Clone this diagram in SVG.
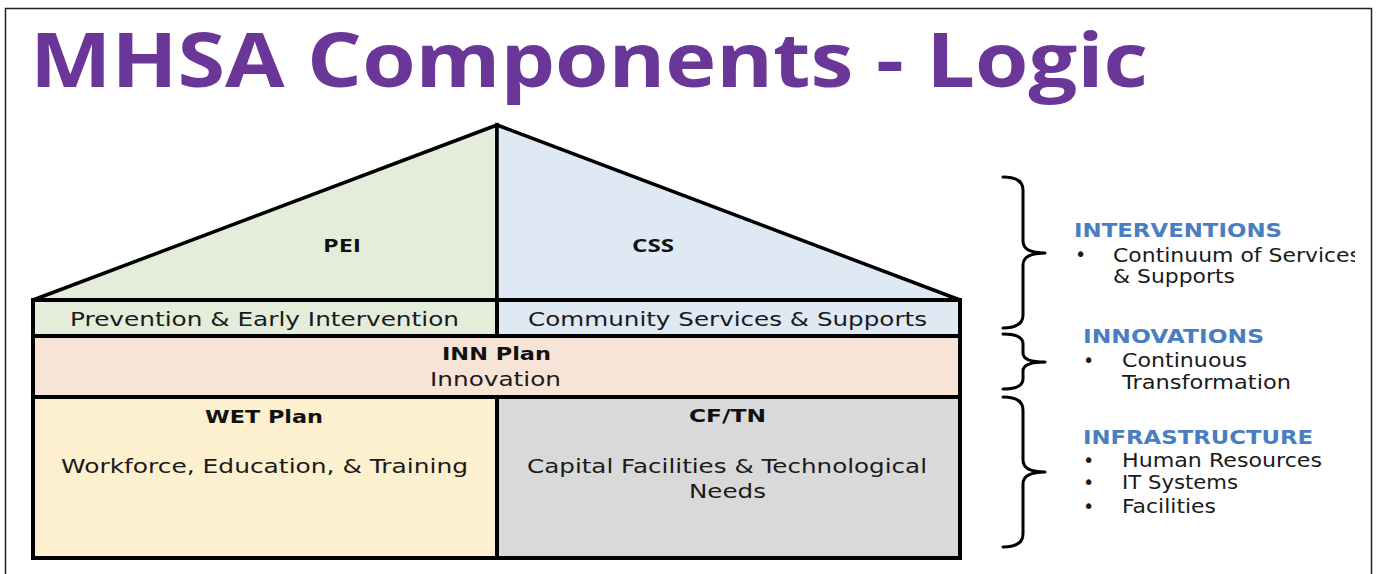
<svg xmlns="http://www.w3.org/2000/svg" width="1378" height="574" viewBox="0 0 1378 574">
<style>
.box{stroke:#000;stroke-width:4;stroke-linejoin:miter}
.roof{stroke:#000;stroke-width:3.5;stroke-linejoin:miter}
.body{font-family:"DejaVu Sans","Liberation Sans",sans-serif;font-size:19px;fill:#1a1a1a}
.bold{font-family:"DejaVu Sans","Liberation Sans",sans-serif;font-size:18px;font-weight:bold;fill:#111}
.narrow{font-family:"Open Sans","Liberation Sans",sans-serif;font-size:18px;font-weight:bold;fill:#111}
.head{font-family:"DejaVu Sans","Liberation Sans",sans-serif;font-size:19px;font-weight:bold;fill:#4A7EC0}
.brace{fill:none;stroke:#000;stroke-width:3;stroke-linecap:round;stroke-linejoin:round}
</style>
<defs>
<clipPath id="clipR"><rect x="0" y="0" width="1355" height="574"/></clipPath>
</defs>
<rect x="0" y="0" width="1378" height="574" fill="#fff"/>
<rect x="5.5" y="8.5" width="1366" height="600" fill="none" stroke="#222" stroke-width="1.5"/>
<g id="title">
<text x="30" y="87" font-family="Open Sans, Liberation Sans, sans-serif" font-weight="bold" font-size="76" fill="#6A3799" textLength="1118" lengthAdjust="spacingAndGlyphs">MHSA Components - Logic</text>
</g>
<g id="roof-pei">
<polygon class="roof" points="497,125 33,300 497,300" fill="#E4EDDA"/>
<text class="narrow" x="342" y="252" text-anchor="middle" textLength="38" lengthAdjust="spacingAndGlyphs">PEI</text>
</g>
<g id="roof-css">
<polygon class="roof" points="497,125 960,300 497,300" fill="#DFE9F4"/>
<text class="narrow" x="653" y="252" text-anchor="middle" textLength="42" lengthAdjust="spacingAndGlyphs">CSS</text>
</g>
<g id="pei-band">
<rect class="box" x="33" y="300" width="464" height="36" fill="#E4EDDA"/>
<text class="body" x="264.5" y="326" text-anchor="middle" textLength="389" lengthAdjust="spacingAndGlyphs">Prevention &amp; Early Intervention</text>
</g>
<g id="css-band">
<rect class="box" x="497" y="300" width="463" height="36" fill="#DFE9F4"/>
<text class="body" x="727.5" y="326" text-anchor="middle" textLength="399" lengthAdjust="spacingAndGlyphs">Community Services &amp; Supports</text>
</g>
<g id="inn">
<rect class="box" x="33" y="336" width="927" height="61" fill="#F7E4D6"/>
<text class="bold" x="496.5" y="360" text-anchor="middle" textLength="109" lengthAdjust="spacingAndGlyphs">INN Plan</text>
<text class="body" x="495.5" y="386" text-anchor="middle" textLength="131" lengthAdjust="spacingAndGlyphs">Innovation</text>
</g>
<g id="wet">
<rect class="box" x="33" y="397" width="464" height="161" fill="#FCF0CF"/>
<text class="bold" x="264" y="423" text-anchor="middle" textLength="118" lengthAdjust="spacingAndGlyphs">WET Plan</text>
<text class="body" x="264.5" y="473" text-anchor="middle" textLength="407" lengthAdjust="spacingAndGlyphs">Workforce, Education, &amp; Training</text>
</g>
<g id="cftn">
<rect class="box" x="497" y="397" width="463" height="161" fill="#D9D9D9"/>
<text class="bold" x="727.5" y="422" text-anchor="middle" textLength="77" lengthAdjust="spacingAndGlyphs">CF/TN</text>
<text class="body" x="727" y="473" text-anchor="middle" textLength="400" lengthAdjust="spacingAndGlyphs">Capital Facilities &amp; Technological</text>
<text class="body" x="727.5" y="498" text-anchor="middle" textLength="77" lengthAdjust="spacingAndGlyphs">Needs</text>
</g>
<g id="connectors">
<path class="brace" d="M1003,177 Q1023,177 1023,190 L1023,241 Q1023,253 1045,253 Q1023,253 1023,265 L1023,315 Q1023,328 1003,328"/>
<path class="brace" d="M1003,334 Q1023,334 1023,344 L1023,353 Q1023,362 1045,362 Q1023,362 1023,371 L1023,379 Q1023,389 1003,389"/>
<path class="brace" d="M1003,397 Q1023,397 1023,410 L1023,460 Q1023,472 1045,472 Q1023,472 1023,484 L1023,534 Q1023,547 1003,547"/>
</g>
<g id="interventions">
<text class="head" x="1074" y="237" textLength="208" lengthAdjust="spacingAndGlyphs">INTERVENTIONS</text>
<text class="body" x="1075" y="261">•</text>
<g clip-path="url(#clipR)">
<text class="body" x="1113" y="262" textLength="248" lengthAdjust="spacingAndGlyphs">Continuum of Services</text>
</g>
<text class="body" x="1113" y="283" textLength="122" lengthAdjust="spacingAndGlyphs">&amp; Supports</text>
</g>
<g id="innovations">
<text class="head" x="1083" y="343" textLength="181" lengthAdjust="spacingAndGlyphs">INNOVATIONS</text>
<text class="body" x="1083" y="367">•</text>
<text class="body" x="1122" y="367" textLength="125" lengthAdjust="spacingAndGlyphs">Continuous</text>
<text class="body" x="1122" y="389" textLength="169" lengthAdjust="spacingAndGlyphs">Transformation</text>
</g>
<g id="infrastructure">
<text class="head" x="1083" y="444" textLength="230" lengthAdjust="spacingAndGlyphs">INFRASTRUCTURE</text>
<text class="body" x="1083" y="467">•</text>
<text class="body" x="1122" y="467" textLength="200" lengthAdjust="spacingAndGlyphs">Human Resources</text>
<text class="body" x="1083" y="489">•</text>
<text class="body" x="1122" y="489" textLength="116" lengthAdjust="spacingAndGlyphs">IT Systems</text>
<text class="body" x="1083" y="513">•</text>
<text class="body" x="1122" y="513" textLength="94" lengthAdjust="spacingAndGlyphs">Facilities</text>
</g>
</svg>
